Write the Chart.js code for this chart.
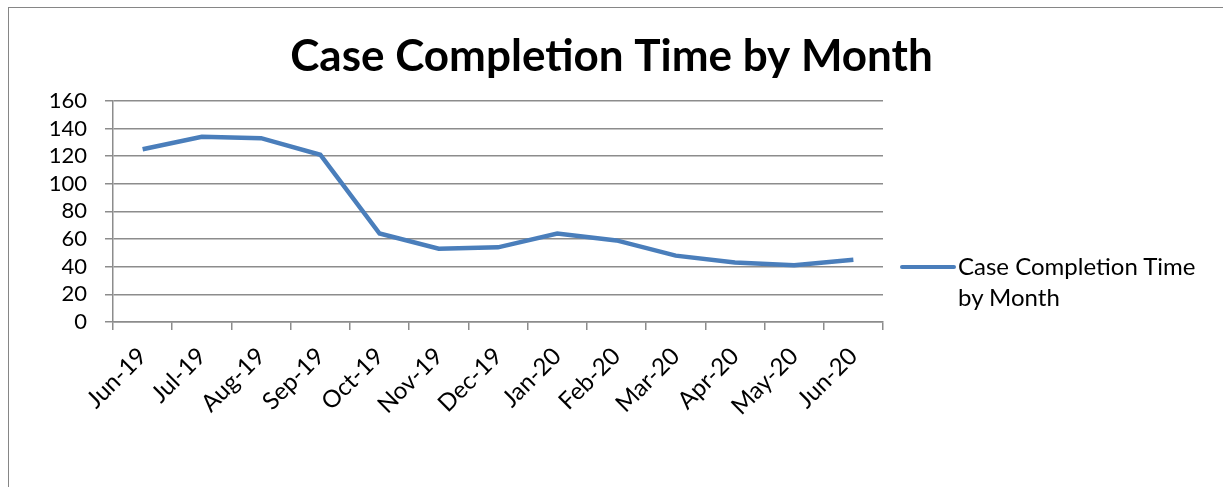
<!DOCTYPE html>
<html>
<head>
<meta charset="utf-8">
<script src="https://cdn.jsdelivr.net/npm/chart.js@4"></script>
<style>
    html, body { margin: 0; padding: 0; background: #fff; }
    body { width: 1223px; height: 487px; overflow: hidden; position: relative; font-family: Lato, "Open Sans", sans-serif; }
    .frame { position: absolute; left: 8px; top: 7px; width: 1300px; height: 600px; border: 1px solid #868686; box-sizing: border-box; }
    #wrap { position: absolute; left: 0; top: 0; width: 1223px; height: 487px; }
    .legend { position: absolute; left: 900px; top: 250px; font-size: 24px; line-height: 31px; color: #000; }
    .legend .swatch { position: absolute; left: 0; top: 15px; width: 56px; height: 4px; border-radius: 2px; }
    .legend .text { position: absolute; left: 58px; top: 0; width: 300px; }
</style>
</head>
<body>
<div class="frame"></div>
<div id="wrap"><canvas id="lineChart" width="1223" height="487"></canvas></div>
<div class="legend" id="legend"></div>

<script>
const months = ["Jun-19","Jul-19","Aug-19","Sep-19","Oct-19","Nov-19","Dec-19","Jan-20","Feb-20","Mar-20","Apr-20","May-20","Jun-20"];
const completionTime = [125, 134, 133, 121, 64, 53, 54, 64, 59, 48, 43, 41, 45];
const yTicks = [0, 20, 40, 60, 80, 100, 120, 140, 160];

const seriesName = "Case Completion Time by Month";
const lineColor = "#4a7ebb";
const gridColor = "#8c8c8c";

new Chart(document.getElementById("lineChart"), {
    type: "line",
    data: {
        labels: months,
        datasets: [{
            label: seriesName,
            data: completionTime,
            borderColor: lineColor,
            backgroundColor: lineColor,
            borderWidth: 4.5,
            pointRadius: 0,
            tension: 0,
            yAxisID: "y"
        }]
    },
    options: {
        responsive: false,
        animation: false,
        devicePixelRatio: 1,
        layout: { padding: 0 },
        plugins: {
            legend: { display: false },
            tooltip: { enabled: false },
            title: {
                display: true,
                text: "Case Completion Time by Month",
                color: "#000",
                font: { family: "Lato", size: 44, weight: "bold", lineHeight: 1.2 },
                padding: { top: 30, bottom: 18 }
            }
        },
        scales: {
            x: {
                offset: true,
                grid: { offset: true, drawOnChartArea: false, tickLength: 8, color: gridColor, lineWidth: 1.5 },
                border: { color: gridColor, width: 1.5 },
                ticks: {
                    minRotation: 45, maxRotation: 45, padding: 12,
                    autoSkip: false,
                    color: "#000",
                    font: { family: "Lato", size: 24 }
                },
                afterFit: s => { s.height = 165; }
            },
            y: {
                min: 0, max: 160,
                afterBuildTicks: s => { s.ticks = yTicks.map(v => ({ value: v })); },
                grid: { tickLength: 8, color: gridColor, lineWidth: 1.5 },
                border: { color: gridColor, width: 1.5 },
                ticks: {
                    padding: 18,
                    autoSkip: false,
                    color: "#000",
                    font: { family: "Lato", size: 22 }
                },
                afterFit: s => { s.width = 113; }
            },
            spacer: {
                position: "right",
                grid: { display: false },
                border: { display: false },
                ticks: { display: false },
                afterFit: s => { s.width = 340; }
            }
        }
    }
});

const lg = document.getElementById("legend");
lg.innerHTML = '<div class="swatch" style="background:' + lineColor + '"></div><div class="text">' + seriesName.replace(" by", "<br>by") + '</div>';
</script>
</body>
</html>
